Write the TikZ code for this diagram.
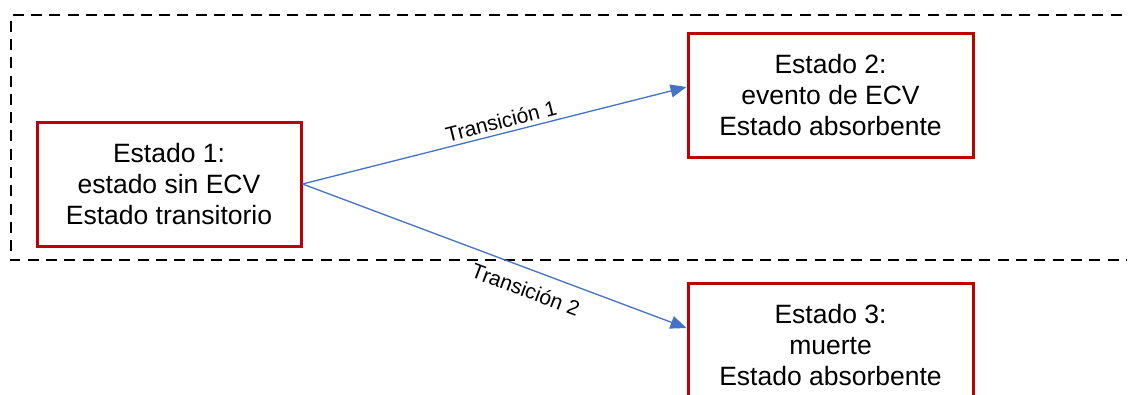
\documentclass[tikz,border=0pt]{standalone}
\usepackage{fontspec}
\setmainfont{Liberation Sans}
\usetikzlibrary{arrows.meta}
\definecolor{boxred}{HTML}{C00000}
\definecolor{arrblue}{HTML}{4472C4}
\tikzset{
  statebox/.style={draw=boxred, line width=3pt, fill=white, minimum height=124pt,
    align=center, font=\fontsize{26.5}{31}\selectfont, inner sep=0pt},
  trans/.style={draw=arrblue, line width=1.3pt, -{Triangle[length=16pt,width=13pt]}},
  translabel/.style={font=\fontsize{21}{23}\selectfont, sloped},
  groupline/.style={draw=black, line width=2.3pt, dash pattern=on 11pt off 7.3pt}
}
\begin{document}
\begin{tikzpicture}[x=1pt,y=-1pt]
\useasboundingbox (0,0) rectangle (1129,394);
\draw[groupline] (1140,15) -| (11,260) -- (1126,260);
\node[statebox, minimum width=264pt] (b1) at (169,184) {Estado 1:\\estado sin ECV\\Estado transitorio};
\node[statebox, minimum width=285pt] (b2) at (830.5,95) {Estado 2:\\evento de ECV\\Estado absorbente};
\node[statebox, minimum width=285pt] (b3) at (830.5,345) {Estado 3:\\muerte\\Estado absorbente};
\draw[trans] (b1.east) -- node[translabel, above, pos=0.525, inner sep=4pt] {Transición 1} ([yshift=8pt]b2.west);
\draw[trans] (b1.east) -- node[translabel, below, pos=0.6, inner sep=12pt] {Transición 2} ([yshift=17pt]b3.west);
\end{tikzpicture}
\end{document}
